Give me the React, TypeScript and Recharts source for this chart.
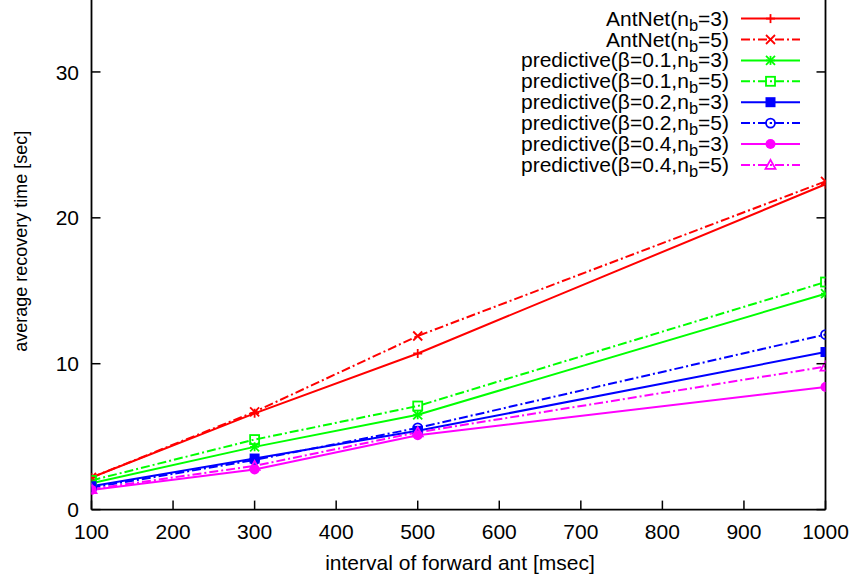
import React from "react";
import { LineChart, Line, XAxis, YAxis, Legend } from "recharts";

// ---- data ----
const intervals = [100, 300, 500, 1000];
const antnet3 = [2.2, 6.6, 10.7, 22.3];
const antnet5 = [2.2, 6.7, 11.9, 22.5];
const pred01n3 = [1.8, 4.3, 6.5, 14.8];
const pred01n5 = [2.0, 4.8, 7.1, 15.6];
const pred02n3 = [1.6, 3.5, 5.4, 10.8];
const pred02n5 = [1.5, 3.4, 5.6, 12.0];
const pred04n3 = [1.35, 2.75, 5.1, 8.4];
const pred04n5 = [1.4, 3.0, 5.3, 9.8];
const xTicks = [100, 200, 300, 400, 500, 600, 700, 800, 900, 1000];
const yTicks = [0, 10, 20, 30];

type Series = {
  key: string;
  values: number[];
  pre: string;
  post: string;
  color: string;
  dashed: boolean;
  marker: string;
};

const series: Series[] = [
  { key: "a3", values: antnet3, pre: "AntNet(n", post: "=3)", color: "#ff0000", dashed: false, marker: "plus" },
  { key: "a5", values: antnet5, pre: "AntNet(n", post: "=5)", color: "#ff0000", dashed: true, marker: "cross" },
  { key: "p13", values: pred01n3, pre: "predictive(\u03b2=0.1,n", post: "=3)", color: "#00ff00", dashed: false, marker: "star" },
  { key: "p15", values: pred01n5, pre: "predictive(\u03b2=0.1,n", post: "=5)", color: "#00ff00", dashed: true, marker: "osquare" },
  { key: "p23", values: pred02n3, pre: "predictive(\u03b2=0.2,n", post: "=3)", color: "#0000ff", dashed: false, marker: "fsquare" },
  { key: "p25", values: pred02n5, pre: "predictive(\u03b2=0.2,n", post: "=5)", color: "#0000ff", dashed: true, marker: "ocircle" },
  { key: "p43", values: pred04n3, pre: "predictive(\u03b2=0.4,n", post: "=3)", color: "#ff00ff", dashed: false, marker: "fcircle" },
  { key: "p45", values: pred04n5, pre: "predictive(\u03b2=0.4,n", post: "=5)", color: "#ff00ff", dashed: true, marker: "otri" },
];

const rows = intervals.map((x, i) => {
  const r: Record<string, number> = { x };
  series.forEach((s) => (r[s.key] = s.values[i]));
  return r;
});

// ---- layout ----
const W = 855;
const H = 583;
const SHIFT = 1.3; // chart coords = page coords + SHIFT
const PL = 91.5;
const PR = 825.5;
const PT = 0;
const PB = 509.3 + SHIFT;
const FONT = "'Liberation Sans', Arial, Helvetica, sans-serif";
const DASH = "9 3 2 3";
const LW = 2;

function Marker({ cx, cy, type, color }: { cx: number; cy: number; type: string; color: string }) {
  const s = 4.5;
  const sw = 1.8;
  switch (type) {
    case "plus":
      return (
        <g stroke={color} strokeWidth={sw}>
          <line x1={cx - s} x2={cx + s} y1={cy} y2={cy} />
          <line x1={cx} x2={cx} y1={cy - s} y2={cy + s} />
        </g>
      );
    case "cross":
      return (
        <g stroke={color} strokeWidth={sw}>
          <line x1={cx - s} x2={cx + s} y1={cy - s} y2={cy + s} />
          <line x1={cx - s} x2={cx + s} y1={cy + s} y2={cy - s} />
        </g>
      );
    case "star":
      return (
        <g stroke={color} strokeWidth={sw}>
          <line x1={cx - s} x2={cx + s} y1={cy} y2={cy} />
          <line x1={cx} x2={cx} y1={cy - s} y2={cy + s} />
          <line x1={cx - s} x2={cx + s} y1={cy - s} y2={cy + s} />
          <line x1={cx - s} x2={cx + s} y1={cy + s} y2={cy - s} />
        </g>
      );
    case "osquare":
      return <rect x={cx - s} y={cy - s} width={2 * s} height={2 * s} fill="none" stroke={color} strokeWidth={sw} />;
    case "fsquare":
      return <rect x={cx - s - 0.5} y={cy - s - 0.5} width={2 * s + 1} height={2 * s + 1} fill={color} />;
    case "ocircle":
      return (
        <g>
          <circle cx={cx} cy={cy} r={s} fill="none" stroke={color} strokeWidth={sw} />
          <circle cx={cx} cy={cy} r={1} fill={color} />
        </g>
      );
    case "fcircle":
      return <circle cx={cx} cy={cy} r={s + 0.5} fill={color} />;
    case "otri":
      return (
        <polygon
          points={`${cx},${cy - s - 0.5} ${cx + s + 0.5},${cy + s - 0.5} ${cx - s - 0.5},${cy + s - 0.5}`}
          fill="none"
          stroke={color}
          strokeWidth={sw}
        />
      );
    default:
      return null;
  }
}

const BottomTick = (props: any) => {
  const x = props.payload.coordinate;
  return (
    <g>
      <line x1={x} x2={x} y1={PB} y2={PB - 9} stroke="#000" strokeWidth={1.5} />
      <text x={x} y={PB + 29} textAnchor="middle" fontSize={21} fontFamily={FONT} fill="#000">
        {props.payload.value}
      </text>
    </g>
  );
};
const TopTick = (props: any) => {
  const x = props.payload.coordinate;
  return <line x1={x} x2={x} y1={PT} y2={PT + 9} stroke="#000" strokeWidth={1.5} />;
};
const LeftTick = (props: any) => {
  const y = props.payload.coordinate;
  return (
    <g>
      <line x1={PL} x2={PL + 9} y1={y} y2={y} stroke="#000" strokeWidth={1.5} />
      <text x={PL - 12.5} y={y + 7.6} textAnchor="end" fontSize={21} fontFamily={FONT} fill="#000">
        {props.payload.value}
      </text>
    </g>
  );
};
const RightTick = (props: any) => {
  const y = props.payload.coordinate;
  return <line x1={PR} x2={PR - 9} y1={y} y2={y} stroke="#000" strokeWidth={1.5} />;
};

const Overlay = () => {
  const textEnd = 729;
  const lx1 = 741;
  const lx2 = 800;
  const y0 = 18.3 + SHIFT;
  const dy = 20.9;
  return (
    <svg width={W} height={H} style={{ position: "absolute", left: 0, top: 0, overflow: "visible" }}>
      {series.map((s, i) => {
        const y = y0 + i * dy;
        return (
          <g key={s.key}>
            <text x={textEnd} y={y + 7} textAnchor="end" fontSize={21} fontFamily={FONT} fill="#000">
              {s.pre}
              <tspan fontSize={16.5} dy={5}>b</tspan>
              <tspan dy={-5}>{s.post}</tspan>
            </text>
            <line
              x1={lx1}
              x2={lx2}
              y1={y}
              y2={y}
              stroke={s.color}
              strokeWidth={LW}
              strokeDasharray={s.dashed ? DASH : undefined}
            />
            <Marker cx={(lx1 + lx2) / 2} cy={y} type={s.marker} color={s.color} />
          </g>
        );
      })}
      <text x={460} y={570 + SHIFT} textAnchor="middle" fontSize={21} fontFamily={FONT} fill="#000">
        interval of forward ant [msec]
      </text>
      <text
        x={27.5}
        y={241 + SHIFT}
        textAnchor="middle"
        fontSize={18}
        fontFamily={FONT}
        fill="#000"
        transform={`rotate(-90 27.5 ${241 + SHIFT})`}
      >
        average recovery time [sec]
      </text>
    </svg>
  );
};

export default function App() {
  return (
    <div style={{ position: "absolute", left: 0, top: -SHIFT, width: W, height: H, background: "#fff" }}>
      <LineChart width={W} height={H} data={rows} margin={{ top: 0, right: 0, bottom: 0, left: 0 }}>
        <XAxis
          xAxisId="b"
          dataKey="x"
          type="number"
          domain={[100, 1000]}
          ticks={xTicks}
          allowDataOverflow
          orientation="bottom"
          height={H - PB}
          axisLine={{ stroke: "#000", strokeWidth: 1.8 }}
          tickLine={false}
          tick={<BottomTick />}
          interval={0}
        />
        <XAxis
          xAxisId="t"
          dataKey="x"
          type="number"
          domain={[100, 1000]}
          ticks={xTicks}
          allowDataOverflow
          orientation="top"
          height={0}
          axisLine={{ stroke: "#000", strokeWidth: 1.8 }}
          tickLine={false}
          tick={<TopTick />}
          interval={0}
        />
        <YAxis
          yAxisId="l"
          type="number"
          domain={[0, 35]}
          ticks={yTicks}
          allowDataOverflow
          orientation="left"
          width={PL}
          axisLine={{ stroke: "#000", strokeWidth: 1.8 }}
          tickLine={false}
          tick={<LeftTick />}
          interval={0}
        />
        <YAxis
          yAxisId="r"
          type="number"
          domain={[0, 35]}
          ticks={yTicks}
          allowDataOverflow
          orientation="right"
          width={W - PR}
          axisLine={{ stroke: "#000", strokeWidth: 1.8 }}
          tickLine={false}
          tick={<RightTick />}
          interval={0}
        />
        {series.map((s) => (
          <Line
            key={s.key}
            xAxisId="b"
            yAxisId="l"
            dataKey={s.key}
            type="linear"
            stroke={s.color}
            strokeWidth={LW}
            strokeDasharray={s.dashed ? DASH : undefined}
            isAnimationActive={false}
            activeDot={false}
            dot={(p: any) => (
              <Marker key={`${s.key}-${p.index}`} cx={p.cx} cy={p.cy} type={s.marker} color={s.color} />
            )}
          />
        ))}
        <Legend
          layout="horizontal"
          verticalAlign="middle"
          align="center"
          wrapperStyle={{ position: "absolute", left: 0, top: 0, width: W, height: H }}
          content={() => <Overlay />}
        />
      </LineChart>
    </div>
  );
}
